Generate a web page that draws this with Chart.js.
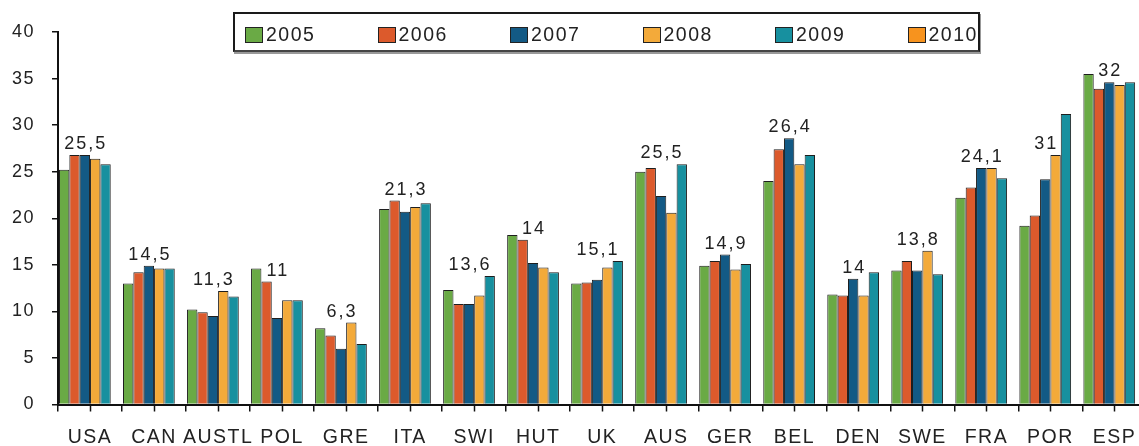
<!DOCTYPE html>
<html>
<head>
<meta charset="utf-8">
<script src="https://cdn.jsdelivr.net/npm/chart.js@4/dist/chart.umd.min.js"></script>
<style>
  html, body { margin: 0; padding: 0; background: #fff; overflow: hidden; }
  #wrap { position: relative; width: 1139px; height: 446px; overflow: hidden; }
  #c { position: absolute; left: -2px; top: 0; }
  #legend {
    position: absolute; left: 233px; top: 12px; width: 733px; height: 36px;
    border: 2px solid #1a1a1a; border-bottom-color: #444; box-shadow: 1px 2px 0 #999;
    background: #fff; display: flex; align-items: center; padding-left: 10px; box-sizing: content-box;
    font-family: "Liberation Sans", Arial, sans-serif; font-size: 19.5px; letter-spacing: 1.5px; color: #222;
  }
  #legend .item { flex: none; width: 132.5px; display: flex; align-items: center; padding-top: 5px; white-space: nowrap; }
  #legend .item:last-child { width: auto; }
  #legend .box { width: 16px; height: 14px; border: 1px solid #222; margin-right: 3px; flex: none; }
</style>
</head>
<body>
<div id="wrap">
  <canvas id="c" width="1152" height="463"></canvas>
  <div id="legend"></div>
</div>
<script>
const categories = ['USA','CAN','AUSTL','POL','GRE','ITA','SWI','HUT','UK','AUS','GER','BEL','DEN','SWE','FRA','POR','ESP'];
const seriesNames = ['2005','2006','2007','2008','2009','2010'];
const v2005 = [25.2, 13.0, 10.2, 14.6, 8.2, 21.0, 12.3, 18.2, 13.0, 25.0, 14.9, 24.0, 11.8, 14.4, 22.2, 19.2, 35.5];
const v2006 = [26.8, 14.2, 9.9, 13.2, 7.4, 21.9, 10.8, 17.7, 13.1, 25.4, 15.4, 27.4, 11.7, 15.4, 23.3, 20.3, 33.9];
const v2007 = [26.8, 14.9, 9.5, 9.3, 6.0, 20.7, 10.8, 15.2, 13.4, 22.4, 16.1, 28.6, 13.5, 14.4, 25.4, 24.2, 34.6];
const v2008 = [26.4, 14.6, 12.2, 11.2, 8.8, 21.2, 11.7, 14.7, 14.7, 20.6, 14.5, 25.8, 11.7, 16.5, 25.4, 26.8, 34.3];
const v2009 = [25.8, 14.6, 11.6, 11.2, 6.5, 21.6, 13.8, 14.2, 15.4, 25.8, 15.1, 26.8, 14.2, 14.0, 24.3, 31.2, 34.6];
const v2010 = [25.5, 14.5, 11.3, 11, 6.3, 21.3, 13.6, 14, 15.1, 25.5, 14.9, 26.4, 14, 13.8, 24.1, 31, 32];
const yTicks = [0, 5, 10, 15, 20, 25, 30, 35, 40];
const colors = ['#6aaa45', '#dc5a2c', '#135a85', '#f3aa3a', '#17909f', '#f7931e'];

const FONT = '"Liberation Sans", Arial, sans-serif';

const extras = {
  id: 'extras',
  beforeDraw(chart) {
    chart.ctx.letterSpacing = '1.5px';
  },
  afterDatasetsDraw(chart) {
    const ctx = chart.ctx;
    const metas = [0, 1, 2, 3, 4].map(d => chart.getDatasetMeta(d));
    ctx.save();
    ctx.font = '18px ' + FONT;
    ctx.letterSpacing = '2px';
    ctx.fillStyle = '#222';
    ctx.textAlign = 'center';
    ctx.textBaseline = 'alphabetic';
    v2010.forEach((v, i) => {
      const txt = String(v).replace('.', ',');
      const cx = metas[2].data[i].x;
      const w = ctx.measureText(txt).width;
      let top = Infinity;
      metas.forEach(m => {
        const el = m.data[i];
        const half = el.width / 2;
        if (el.x + half > cx - w / 2 + 3 && el.x - half < cx + w / 2 - 3) top = Math.min(top, el.y);
      });
      ctx.fillText(txt, cx + 1, top - 6);
    });
    ctx.restore();
  },
  afterDraw(chart) {
    const ctx = chart.ctx;
    const xs = chart.scales.x;
    ctx.save();
    ctx.strokeStyle = '#111';
    ctx.lineWidth = 1.5;
    categories.forEach((c, i) => {
      const px = Math.round(xs.getPixelForTick(i)) + 0.5;
      ctx.beginPath();
      ctx.moveTo(px, xs.top);
      ctx.lineTo(px, xs.top + 7);
      ctx.stroke();
    });
    ctx.restore();
  }
};

const series = [v2005, v2006, v2007, v2008, v2009, v2010.map(() => null)];

const chart = new Chart(document.getElementById('c'), {
  type: 'bar',
  data: {
    labels: categories,
    datasets: seriesNames.map((n, k) => ({
      label: n,
      data: series[k],
      backgroundColor: colors[k],
      borderColor: '#1e1e1e',
      borderWidth: 1,
      categoryPercentage: 0.97,
      barPercentage: 1.0
    }))
  },
  options: {
    responsive: false,
    animation: false,
    devicePixelRatio: 1,
    layout: { padding: { top: 32, left: 0, right: 2, bottom: 0 } },
    plugins: { legend: { display: false }, tooltip: { enabled: false } },
    scales: {
      x: {
        offset: true,
        border: { display: true, color: '#111', width: 2 },
        grid: { display: true, offset: true, drawOnChartArea: false, drawTicks: true, tickLength: 7, color: '#111', lineWidth: 1.5 },
        ticks: { autoSkip: false, maxRotation: 0, minRotation: 0, padding: 16, color: '#222', font: { family: FONT, size: 19.5, lineHeight: 1.0 } }
      },
      y: {
        min: 0, max: 40,
        afterBuildTicks(scale) { scale.ticks = yTicks.map(v => ({ value: v })); },
        border: { display: true, color: '#111', width: 2 },
        grid: { display: true, drawOnChartArea: false, drawTicks: true, tickLength: 6, color: '#111', lineWidth: 1.5 },
        ticks: { padding: 17, color: '#222', font: { family: FONT, size: 18 } }
      }
    }
  },
  plugins: [extras]
});

const legendEl = document.getElementById('legend');
chart.data.datasets.forEach(ds => {
  const item = document.createElement('div');
  item.className = 'item';
  const box = document.createElement('span');
  box.className = 'box';
  box.style.background = ds.backgroundColor;
  const txt = document.createElement('span');
  txt.textContent = ds.label;
  item.appendChild(box);
  item.appendChild(txt);
  legendEl.appendChild(item);
});
</script>
</body>
</html>
